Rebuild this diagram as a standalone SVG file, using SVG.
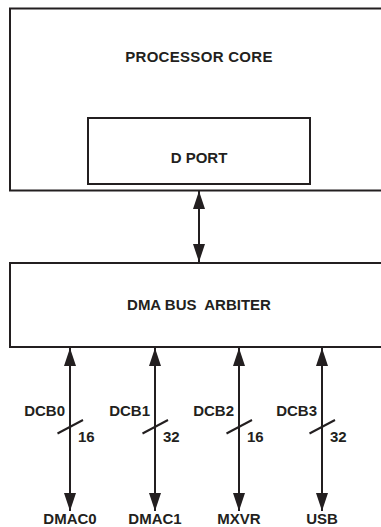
<svg xmlns="http://www.w3.org/2000/svg" width="381" height="527" viewBox="0 0 381 527">
<style>
.box{fill:#fff;stroke:#231f20;stroke-width:2}
.t{font-family:"Liberation Sans",Arial,sans-serif;font-weight:bold;font-size:15px;fill:#231f20}
.c{text-anchor:middle}
.e{text-anchor:end}
.ln{stroke:#231f20;stroke-width:2;fill:none}
</style>
<defs>
<marker id="ah" markerUnits="userSpaceOnUse" markerWidth="18" markerHeight="12" viewBox="0 0 18 12" refX="18" refY="6" orient="auto-start-reverse">
<path d="M0,0 L18,6 L0,12 Z" fill="#231f20"/>
</marker>
</defs>
<g id="processor-core">
<rect class="box" x="10" y="8.5" width="390" height="182"/>
<text class="t c" x="199" y="62" letter-spacing="0.3">PROCESSOR CORE</text>
</g>
<g id="d-port">
<rect class="box" x="88" y="118" width="222" height="66"/>
<text class="t c" x="199" y="163">D PORT</text>
</g>
<g id="dma-bus-arbiter">
<rect class="box" x="10" y="263" width="390" height="84"/>
<text class="t c" x="199" y="310" xml:space="preserve">DMA BUS  ARBITER</text>
</g>
<g id="connectors">
<line class="ln" x1="199" y1="191" x2="199" y2="262" marker-start="url(#ah)" marker-end="url(#ah)"/>
<line class="ln" x1="70" y1="348" x2="70" y2="511" marker-start="url(#ah)" marker-end="url(#ah)"/>
<line class="ln" x1="155" y1="348" x2="155" y2="511" marker-start="url(#ah)" marker-end="url(#ah)"/>
<line class="ln" x1="239" y1="348" x2="239" y2="511" marker-start="url(#ah)" marker-end="url(#ah)"/>
<line class="ln" x1="322" y1="348" x2="322" y2="511" marker-start="url(#ah)" marker-end="url(#ah)"/>
<line class="ln" x1="57.5" y1="433.5" x2="83" y2="420"/>
<line class="ln" x1="142.5" y1="433.5" x2="168" y2="420"/>
<line class="ln" x1="226.5" y1="433.5" x2="252" y2="420"/>
<line class="ln" x1="309.5" y1="433.5" x2="335" y2="420"/>
</g>
<g id="labels">
<text class="t e" x="65" y="416">DCB0</text>
<text class="t e" x="150" y="416">DCB1</text>
<text class="t e" x="234" y="416">DCB2</text>
<text class="t e" x="317" y="416">DCB3</text>
<text class="t" x="78" y="442">16</text>
<text class="t" x="163" y="442">32</text>
<text class="t" x="247" y="442">16</text>
<text class="t" x="330" y="442">32</text>
</g>
<g id="dmac0"><text class="t c" x="70" y="524">DMAC0</text></g>
<g id="dmac1"><text class="t c" x="155" y="524">DMAC1</text></g>
<g id="mxvr"><text class="t c" x="239" y="524">MXVR</text></g>
<g id="usb"><text class="t c" x="322" y="524">USB</text></g>
</svg>
